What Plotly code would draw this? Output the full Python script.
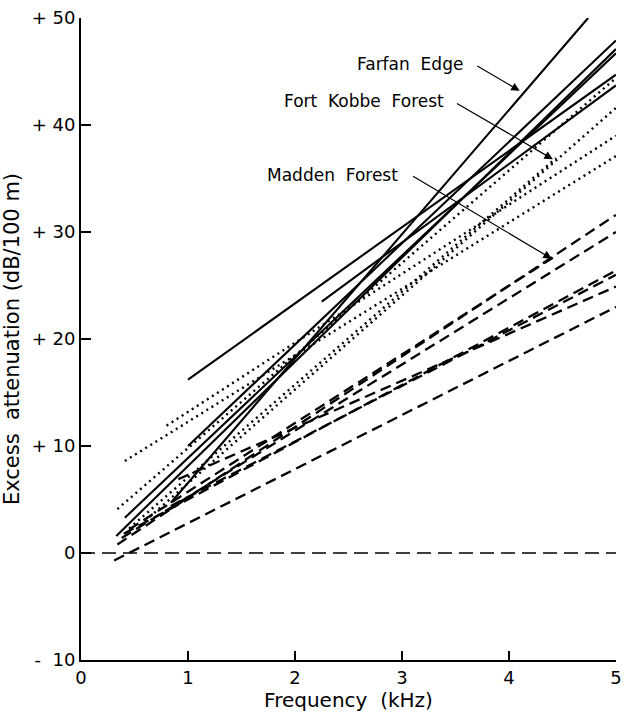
import plotly.graph_objects as go

# ---- data (frequency kHz, excess attenuation dB/100 m) ----
solid_x0 = [1.00, 2.25, 1.00, 0.41, 0.33, 0.84]
solid_y0 = [16.2, 23.5, 10.0, 3.3, 1.6, 4.7]
solid_x1 = [5.00, 5.00, 5.00, 5.00, 5.00, 4.74]
solid_y1 = [44.7, 43.7, 47.9, 46.7, 47.1, 50.0]

dot_x0 = [0.41, 0.80, 0.34, 0.45, 0.60]
dot_y0 = [8.6, 11.9, 4.1, 2.3, 3.0]
dot_x1 = [5.00, 5.00, 5.00, 4.44, 5.00]
dot_y1 = [37.1, 39.0, 44.4, 36.9, 41.6]

dash_x0 = [0.34, 0.38, 0.45, 0.91, 0.40, 0.84, 0.31]
dash_y0 = [0.8, 1.4, 2.2, 6.9, 1.8, 4.4, -0.7]
dash_x1 = [5.00, 5.00, 4.41, 5.00, 5.00, 5.00, 5.00]
dash_y1 = [31.6, 30.0, 27.6, 24.9, 26.4, 26.0, 23.0]

zero_x = [0, 5]
zero_y = [0, 0]

x_ticks = [0, 1, 2, 3, 4, 5]
y_ticks = [-10, 0, 10, 20, 30, 40, 50]
y_ticktext = ["-  10", "0", "+ 10", "+ 20", "+ 30", "+ 40", "+ 50"]

labels = ["Farfan  Edge", "Fort  Kobbe  Forest", "Madden  Forest"]
label_x = [3.59, 3.41, 2.98]
label_y = [45.7, 42.2, 35.3]
arrow_tail_x = [3.69, 3.50, 3.09]
arrow_tail_y = [45.6, 42.1, 35.3]
arrow_tip_x = [4.10, 4.41, 4.40]
arrow_tip_y = [43.2, 36.8, 27.5]

FONT = "DejaVu Sans"

fig = go.Figure()

fig.add_trace(go.Scatter(x=zero_x, y=zero_y, mode="lines",
                         line=dict(color="black", width=1.5, dash="14px,7px"),
                         hoverinfo="skip"))

for x0, y0, x1, y1 in zip(dash_x0, dash_y0, dash_x1, dash_y1):
    fig.add_trace(go.Scatter(x=[x0, x1], y=[y0, y1], mode="lines",
                             line=dict(color="black", width=2.3, dash="11px,6px")))

for x0, y0, x1, y1 in zip(dot_x0, dot_y0, dot_x1, dot_y1):
    fig.add_trace(go.Scatter(x=[x0, x1], y=[y0, y1], mode="lines",
                             line=dict(color="black", width=2.4, dash="2px,4px")))

for x0, y0, x1, y1 in zip(solid_x0, solid_y0, solid_x1, solid_y1):
    fig.add_trace(go.Scatter(x=[x0, x1], y=[y0, y1], mode="lines",
                             line=dict(color="black", width=2.1)))

for t, lx, ly in zip(labels, label_x, label_y):
    fig.add_annotation(x=lx, y=ly, text=t, showarrow=False, xanchor="right",
                       yanchor="middle", font=dict(family=FONT, size=17, color="black"))

for tx, ty, hx, hy in zip(arrow_tail_x, arrow_tail_y, arrow_tip_x, arrow_tip_y):
    fig.add_annotation(x=hx, y=hy, ax=tx, ay=ty, axref="x", ayref="y",
                       text="", showarrow=True, arrowhead=2, arrowsize=1.4,
                       arrowwidth=1.2, arrowcolor="black")

fig.update_layout(
    width=629, height=714,
    margin=dict(l=81, r=7, t=15, b=54),
    plot_bgcolor="white", paper_bgcolor="white",
    showlegend=False,
    font=dict(family=FONT, color="black"),
)
fig.update_xaxes(range=[0, 5.0005], tickvals=x_ticks, ticks="inside", ticklen=9,
                 tickwidth=1.5, tickcolor="black", showline=True, linecolor="black",
                 linewidth=2, showgrid=False, zeroline=False,
                 ticklabeloverflow="allow",
                 tickfont=dict(family=FONT, size=18),
                 title=dict(text="Frequency  (kHz)", font=dict(family=FONT, size=20),
                            standoff=4))
fig.update_yaxes(range=[-10, 50], tickvals=y_ticks, ticktext=y_ticktext,
                 ticks="inside", ticklen=10, tickwidth=1.5, tickcolor="black",
                 showline=True, linecolor="black", linewidth=2, showgrid=False,
                 zeroline=False, tickfont=dict(family=FONT, size=18),
                 ticklabeloverflow="allow",
                 title=dict(text="Excess  attenuation (dB/100 m)",
                            font=dict(family=FONT, size=21), standoff=6))

fig.write_html("out.html",
               config={"displayModeBar": False, "staticPlot": True},
               post_script="document.body.style.margin='0';"
                           "document.documentElement.style.overflow='hidden';")
